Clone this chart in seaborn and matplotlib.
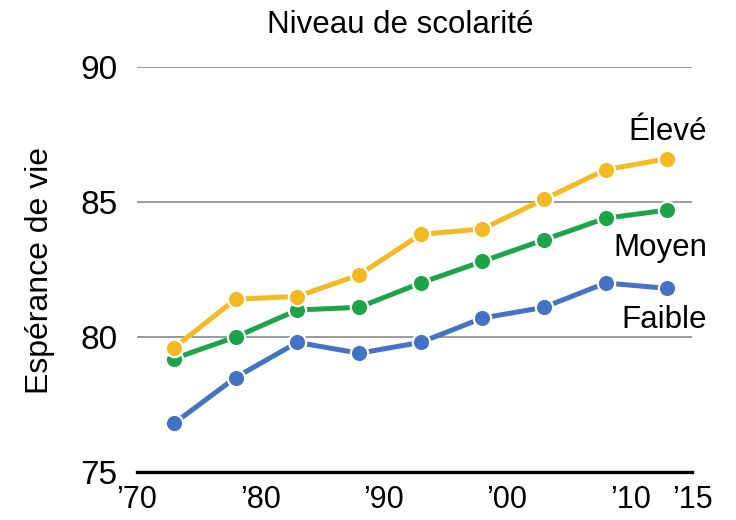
import matplotlib
matplotlib.use("Agg")
import matplotlib.pyplot as plt
import seaborn as sns
import pandas as pd

# Espérance de vie selon le niveau de scolarité
annees = [1973, 1978, 1983, 1988, 1993, 1998, 2003, 2008, 2013]
eleve = [79.6, 81.4, 81.5, 82.3, 83.8, 84.0, 85.1, 86.2, 86.6]
moyen = [79.2, 80.0, 81.0, 81.1, 82.0, 82.8, 83.6, 84.4, 84.7]
faible = [76.8, 78.5, 79.8, 79.4, 79.8, 80.7, 81.1, 82.0, 81.8]

niveaux = ["Faible", "Moyen", "Élevé"]
couleurs = {"Faible": "#4472C4", "Moyen": "#1BA548", "Élevé": "#F5B921"}

x_ticks = [1970, 1980, 1990, 2000, 2010, 2015]
x_labels = ["’70", "’80", "’90", "’00", "’10", "’15"]
y_ticks = [75, 80, 85, 90]

df = pd.DataFrame({
    "annee": annees * 3,
    "esperance": faible + moyen + eleve,
    "niveau": ["Faible"] * len(annees) + ["Moyen"] * len(annees) + ["Élevé"] * len(annees),
})

sns.set_theme(style="white")
plt.rcParams["font.family"] = ["Liberation Sans", "DejaVu Sans"]

fig = plt.figure(figsize=(7.36, 5.20), dpi=100)
ax = fig.add_axes([137 / 736, 1 - 472 / 520, (692 - 137) / 736, (472 - 67) / 520])

sns.lineplot(
    data=df, x="annee", y="esperance", hue="niveau", hue_order=niveaux,
    palette=couleurs, marker="o", markersize=12.5, linewidth=3.6,
    markeredgecolor="white", markeredgewidth=1.6, legend=False, ax=ax,
    zorder=3,
)

ax.set_xlim(1970, 2015)
ax.set_ylim(75, 90)
ax.set_yticks(y_ticks)
ax.set_yticklabels([str(v) for v in y_ticks])
ax.set_xticks(x_ticks)
ax.set_xticklabels(x_labels)
ax.tick_params(axis="both", length=0, colors="black")
ax.tick_params(axis="y", pad=14, labelsize=24)
ax.tick_params(axis="x", pad=9, labelsize=22)
ax.set_xlabel("")
ax.set_ylabel("")

ax.grid(axis="y", color="#808080", linewidth=1.1)
ax.grid(axis="x", visible=False)
for side in ["top", "right", "left"]:
    ax.spines[side].set_visible(False)
ax.spines["bottom"].set_color("black")
ax.spines["bottom"].set_linewidth(2.4)
ax.spines["bottom"].set_zorder(4)

# Étiquettes des séries à droite
etiquettes = {"Élevé": 87.3, "Moyen": 83.0, "Faible": 80.35}
for nom, yv in etiquettes.items():
    ax.text(2016.2, yv, nom, ha="right", va="baseline", fontsize=22.5,
            color="black", clip_on=False)

fig.text(400 / 736, 1 - 33 / 520, "Niveau de scolarité", ha="center",
         va="baseline", fontsize=22.5, color="black")
fig.text(40 / 736, 1 - 270 / 520, "Espérance de vie", ha="center",
         va="center", rotation=90, fontsize=23, color="black")

fig.savefig("out.png", dpi=100, facecolor="white")
